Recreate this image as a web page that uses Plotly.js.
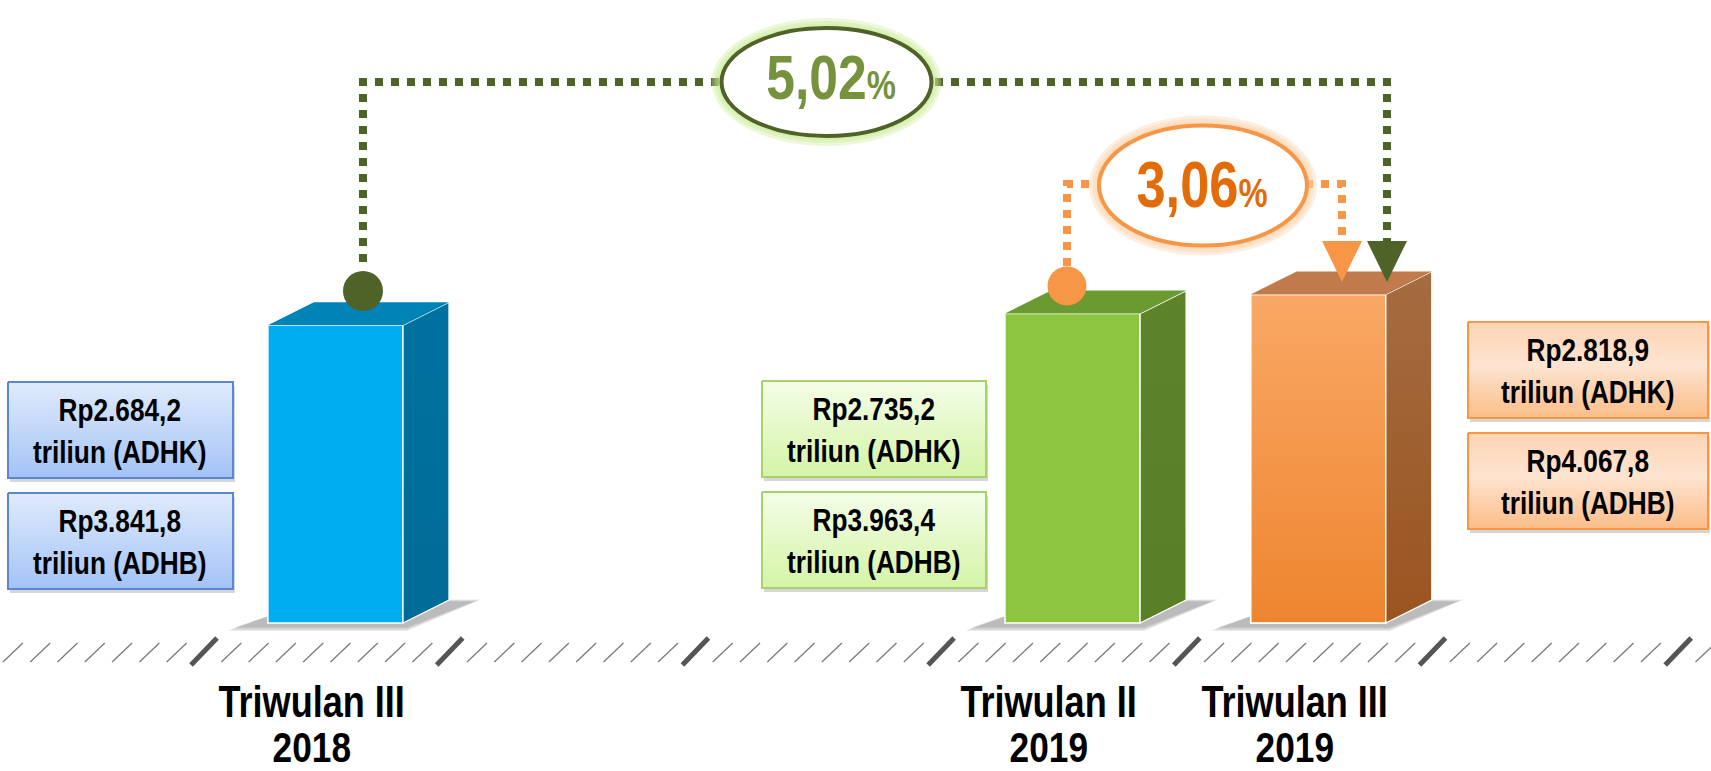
<!DOCTYPE html>
<html><head><meta charset="utf-8">
<script src="https://cdn.plot.ly/plotly-3.0.1.min.js"></script>
<style>
html,body{margin:0;padding:0;background:#fff;overflow:hidden}
/* narrow the bold sans text like Arial Narrow Bold */
#chart text.annotation-text{transform-box:fill-box;transform-origin:center;transform:scaleX(0.82)}
</style>
</head><body><div id="chart" style="width:1711px;height:771px"></div>
<script>
// ---------------- DATA ----------------
const categories = ['Triwulan III 2018', 'Triwulan II 2019', 'Triwulan III 2019'];
const labelLine1 = ['Triwulan III', 'Triwulan II', 'Triwulan III'];
const labelLine2 = ['2018', '2019', '2019'];
const adhk = [2684.2, 2735.2, 2818.9];   // triliun rupiah, harga konstan
const adhb = [3841.8, 3963.4, 4067.8];   // triliun rupiah, harga berlaku

// ---------------- LAYOUT CONSTANTS ----------------
const W = 1711, H = 771;
const slotPx = 245.7, slotEdgePx = 204;
const xr = [0.5 - slotEdgePx / slotPx, 0.5 + (W - slotEdgePx) / slotPx];
const basePx = 623, pxPerUnit = 0.2275, yBase = 1375;
const yr = [yBase - (H - basePx) / pxPerUnit, yBase + basePx / pxPerUnit];
const slotPos = [1, 4, 5];
const barOffset = -0.24, barWidth = 0.55;
const dXpx = 46, dYpx = 23;
const depthX = dXpx / slotPx, depthY = dYpx / pxPerUnit;

const PXx = x => (x - xr[0]) / (xr[1] - xr[0]) * W;
const px = p => p / W;          // pixel -> paper x
const py = p => 1 - p / H;      // pixel -> paper y
const dx = p => xr[0] + p / W * (xr[1] - xr[0]);   // pixel -> data x
const dy = p => yr[1] - p / H * (yr[1] - yr[0]);   // pixel -> data y

const FONT = "'Liberation Sans',Arial,sans-serif";

const frontCol = ['#00aeef', '#8cc63f', '#f5913d'];
const frontTint = [null, null, [[0, 'rgba(228,118,30,0.45)'], [1, 'rgba(255,196,150,0.45)']]];
const sideScale = [
  [[0, '#006b97'], [1, '#0072a0']],
  [[0, '#587f26'], [1, '#5d842a']],
  [[0, '#9a5420'], [1, '#a56c41']]
];
const topCol = ['#0083b5', '#6b9a30', '#c07a4b'];

function fmt(v, d) {
  const s = v.toFixed(d).split('.');
  const int = s[0].replace(/\B(?=(\d{3})+(?!\d))/g, '.');
  return s[1] ? int + ',' + s[1] : int;
}

const traces = [];
// front faces (bars)
traces.push({
  type: 'bar', x: slotPos, y: adhk.map(v => v - yBase), base: yBase,
  offset: barOffset, width: barWidth, name: 'ADHK',
  text: categories, textposition: 'none', hoverinfo: 'none',
  marker: {color: frontCol, line: {color: '#ffffff', width: 1.5}}
});
// side + top faces, tint on front
adhk.forEach((v, i) => {
  const L = slotPos[i] + barOffset, R = L + barWidth;
  if (frontTint[i]) {
    traces.push({
      type: 'scatter', mode: 'lines', hoverinfo: 'none',
      x: [L, R, R, L, L], y: [yBase, yBase, v, v, yBase],
      fill: 'toself', fillgradient: {type: 'vertical', colorscale: frontTint[i]},
      line: {color: '#ffffff', width: 1.5}
    });
  }
  traces.push({
    type: 'scatter', mode: 'lines', hoverinfo: 'none',
    x: [R, R, R + depthX, R + depthX, R], y: [yBase, v, v + depthY, yBase + depthY, yBase],
    fill: 'toself', fillgradient: {type: 'vertical', colorscale: sideScale[i]},
    line: {color: '#ffffff', width: 1.3}
  });
  traces.push({
    type: 'scatter', mode: 'lines', hoverinfo: 'none',
    x: [L, L + depthX, R + depthX, R, L], y: [v, v + depthY, v + depthY, v, v],
    fill: 'toself', fillcolor: topCol[i], line: {color: 'rgba(255,255,255,0)', width: 0}
  });
});

// value boxes
const boxes = [
  {x0: 8, x1: 233, y: [382, 493], h: 96, border: '#5b87cf', scale: [[0, '#a3c3f6'], [1, '#e0ebfc']]},
  {x0: 762, x1: 986, y: [381, 492], h: 96, border: '#a6d16b', scale: [[0, '#d4f4a6'], [1, '#f4fde8']]},
  {x0: 1468, x1: 1708, y: [322, 433], h: 96, border: '#f79646', scale: [[0, '#fbbd88'], [0.55, '#fde4d1'], [1, '#fdd4b3']]}
];
const shapes = [];
const annotations = [];

// shadows of bars
adhk.forEach((v, i) => {
  const Lp = PXx(slotPos[i] + barOffset), Rp = PXx(slotPos[i] + barOffset + barWidth);
  for (let k = 0; k < 4; k++) {
    const e = 8 - k * 2.5;
    const pts = [[Lp - 32 - e, basePx + 4 + e * 0.5], [Rp + 4, basePx + 4 + e * 0.5],
                 [Rp + dXpx + 24 + e, basePx - dYpx + 2 - e * 0.3], [Lp + dXpx, basePx - dYpx]];
    shapes.push({type: 'path', xref: 'paper', yref: 'paper', layer: 'below',
      path: 'M' + pts.map(p => px(p[0]) + ',' + py(p[1])).join('L') + 'Z',
      fillcolor: '#6f6f6f', opacity: 0.15, line: {width: 0}});
  }
});

boxes.forEach((b, i) => {
  const vals = [adhk[i], adhb[i]], kind = ['ADHK', 'ADHB'];
  b.y.forEach((y0, j) => {
    const y1 = y0 + b.h;
    shapes.push({type: 'rect', xref: 'paper', yref: 'paper', layer: 'below',
      x0: px(b.x0 + 2), x1: px(b.x1 + 2), y0: py(y0 + 4), y1: py(y1 + 4),
      fillcolor: '#8a8a8a', opacity: 0.35, line: {width: 0}});
    traces.push({type: 'scatter', mode: 'lines', hoverinfo: 'none',
      x: [b.x0, b.x1, b.x1, b.x0, b.x0].map(dx),
      y: [y0, y0, y1, y1, y0].map(dy),
      fill: 'toself', fillgradient: {type: 'vertical', colorscale: b.scale},
      line: {color: b.border, width: 2}});
    annotations.push({xref: 'paper', yref: 'paper', x: px((b.x0 + b.x1) / 2), y: py(y0 + b.h / 2 + 1),
      xanchor: 'center', yanchor: 'middle', showarrow: false,
      text: '<b>Rp' + fmt(vals[j], 1) + '<br>triliun (' + kind[j] + ')</b>',
      font: {family: FONT, size: 32, color: '#000000'}});
  });
});

// baseline hatching
for (let n = -8; n < 60; n++) {
  const xc = slotEdgePx + n * slotPx / 9;
  if (xc < -20 || xc > W + 20) continue;
  const thick = (n % 9 === 0);
  if (thick) {
    shapes.push({type: 'line', xref: 'paper', yref: 'paper', x0: px(xc - 13), y0: py(665), x1: px(xc + 13), y1: py(638),
      line: {color: '#555555', width: 5}});
  } else {
    shapes.push({type: 'line', xref: 'paper', yref: 'paper', x0: px(xc - 10), y0: py(662), x1: px(xc + 10), y1: py(643),
      line: {color: '#7a7a7a', width: 1.3}});
  }
}

// growth connectors
const yoy = (adhk[2] / adhk[0] - 1) * 100;
const qtq = (adhk[2] / adhk[1] - 1) * 100;
const greenDark = '#4f6228', orange = '#f79646';
function polyPath(pts) { return 'M' + pts.map(p => px(p[0]) + ',' + py(p[1])).join('L'); }
shapes.push({type: 'path', xref: 'paper', yref: 'paper', layer: 'above',
  path: polyPath([[363, 262], [363, 82], [1387, 82], [1387, 242]]),
  line: {color: greenDark, width: 8, dash: 'dot'}});
shapes.push({type: 'path', xref: 'paper', yref: 'paper', layer: 'above',
  path: polyPath([[1067, 266], [1067, 184], [1342, 184], [1342, 240]]),
  line: {color: orange, width: 8, dash: 'dot'}});
// arrow heads
shapes.push({type: 'path', xref: 'paper', yref: 'paper', layer: 'above',
  path: polyPath([[1322, 241], [1362, 241], [1342, 282]]) + 'Z', fillcolor: orange, line: {width: 0}});
shapes.push({type: 'path', xref: 'paper', yref: 'paper', layer: 'above',
  path: polyPath([[1367, 241], [1407, 241], [1387, 282]]) + 'Z', fillcolor: greenDark, line: {width: 0}});

// ellipses with glow
function ellipse(cx, cy, rx, ry, border, glow) {
  [10, 7, 4].forEach(g => shapes.push({type: 'circle', xref: 'paper', yref: 'paper', layer: 'above',
    x0: px(cx - rx - g), x1: px(cx + rx + g), y0: py(cy + ry + g), y1: py(cy - ry - g),
    fillcolor: glow, opacity: 0.35, line: {width: 0}}));
  shapes.push({type: 'circle', xref: 'paper', yref: 'paper', layer: 'above',
    x0: px(cx - rx), x1: px(cx + rx), y0: py(cy + ry), y1: py(cy - ry),
    fillcolor: '#ffffff', line: {color: border, width: 4}});
}
ellipse(826.5, 82, 105, 54, greenDark, '#c9ec92');
ellipse(1203, 185.5, 104, 60, orange, '#fbcfa6');

annotations.push({xref: 'paper', yref: 'paper', x: px(831), y: py(77), xanchor: 'center', yanchor: 'middle',
  showarrow: false, text: '<b>' + fmt(yoy, 2) + '<span style="font-size:40px">%</span></b>',
  font: {family: FONT, size: 63, color: '#76923c'}});
annotations.push({xref: 'paper', yref: 'paper', x: px(1202), y: py(185), xanchor: 'center', yanchor: 'middle',
  showarrow: false, text: '<b>' + fmt(qtq, 2) + '<span style="font-size:40px">%</span></b>',
  font: {family: FONT, size: 64, color: '#e36c09'}});

// circle markers at the start of connectors
traces.push({type: 'scatter', mode: 'markers', hoverinfo: 'none',
  x: [363, 1067].map(dx), y: [291, 286].map(dy),
  marker: {size: [40, 39], opacity: 1, color: [greenDark, orange], line: {width: 0}}});

// category labels
slotPos.forEach((x, i) => {
  annotations.push({xref: 'x', yref: 'paper', x: x, xshift: -15, y: py(701), xanchor: 'center', yanchor: 'middle',
    showarrow: false, text: '<b>' + labelLine1[i] + '</b>', font: {family: FONT, size: 44, color: '#000000'}});
  annotations.push({xref: 'x', yref: 'paper', x: x, xshift: -15, y: py(747), xanchor: 'center', yanchor: 'middle',
    showarrow: false, text: '<b>' + labelLine2[i] + '</b>', font: {family: FONT, size: 43, color: '#000000'}});
});

const layout = {
  width: W, height: H, margin: {l: 0, r: 0, t: 0, b: 0, pad: 0},
  paper_bgcolor: '#ffffff', plot_bgcolor: '#ffffff', showlegend: false,
  xaxis: {range: xr, visible: false, fixedrange: true},
  yaxis: {range: yr, visible: false, fixedrange: true},
  shapes: shapes, annotations: annotations
};
Plotly.newPlot('chart', traces, layout, {staticPlot: true, displayModeBar: false});
</script>
</body></html>
